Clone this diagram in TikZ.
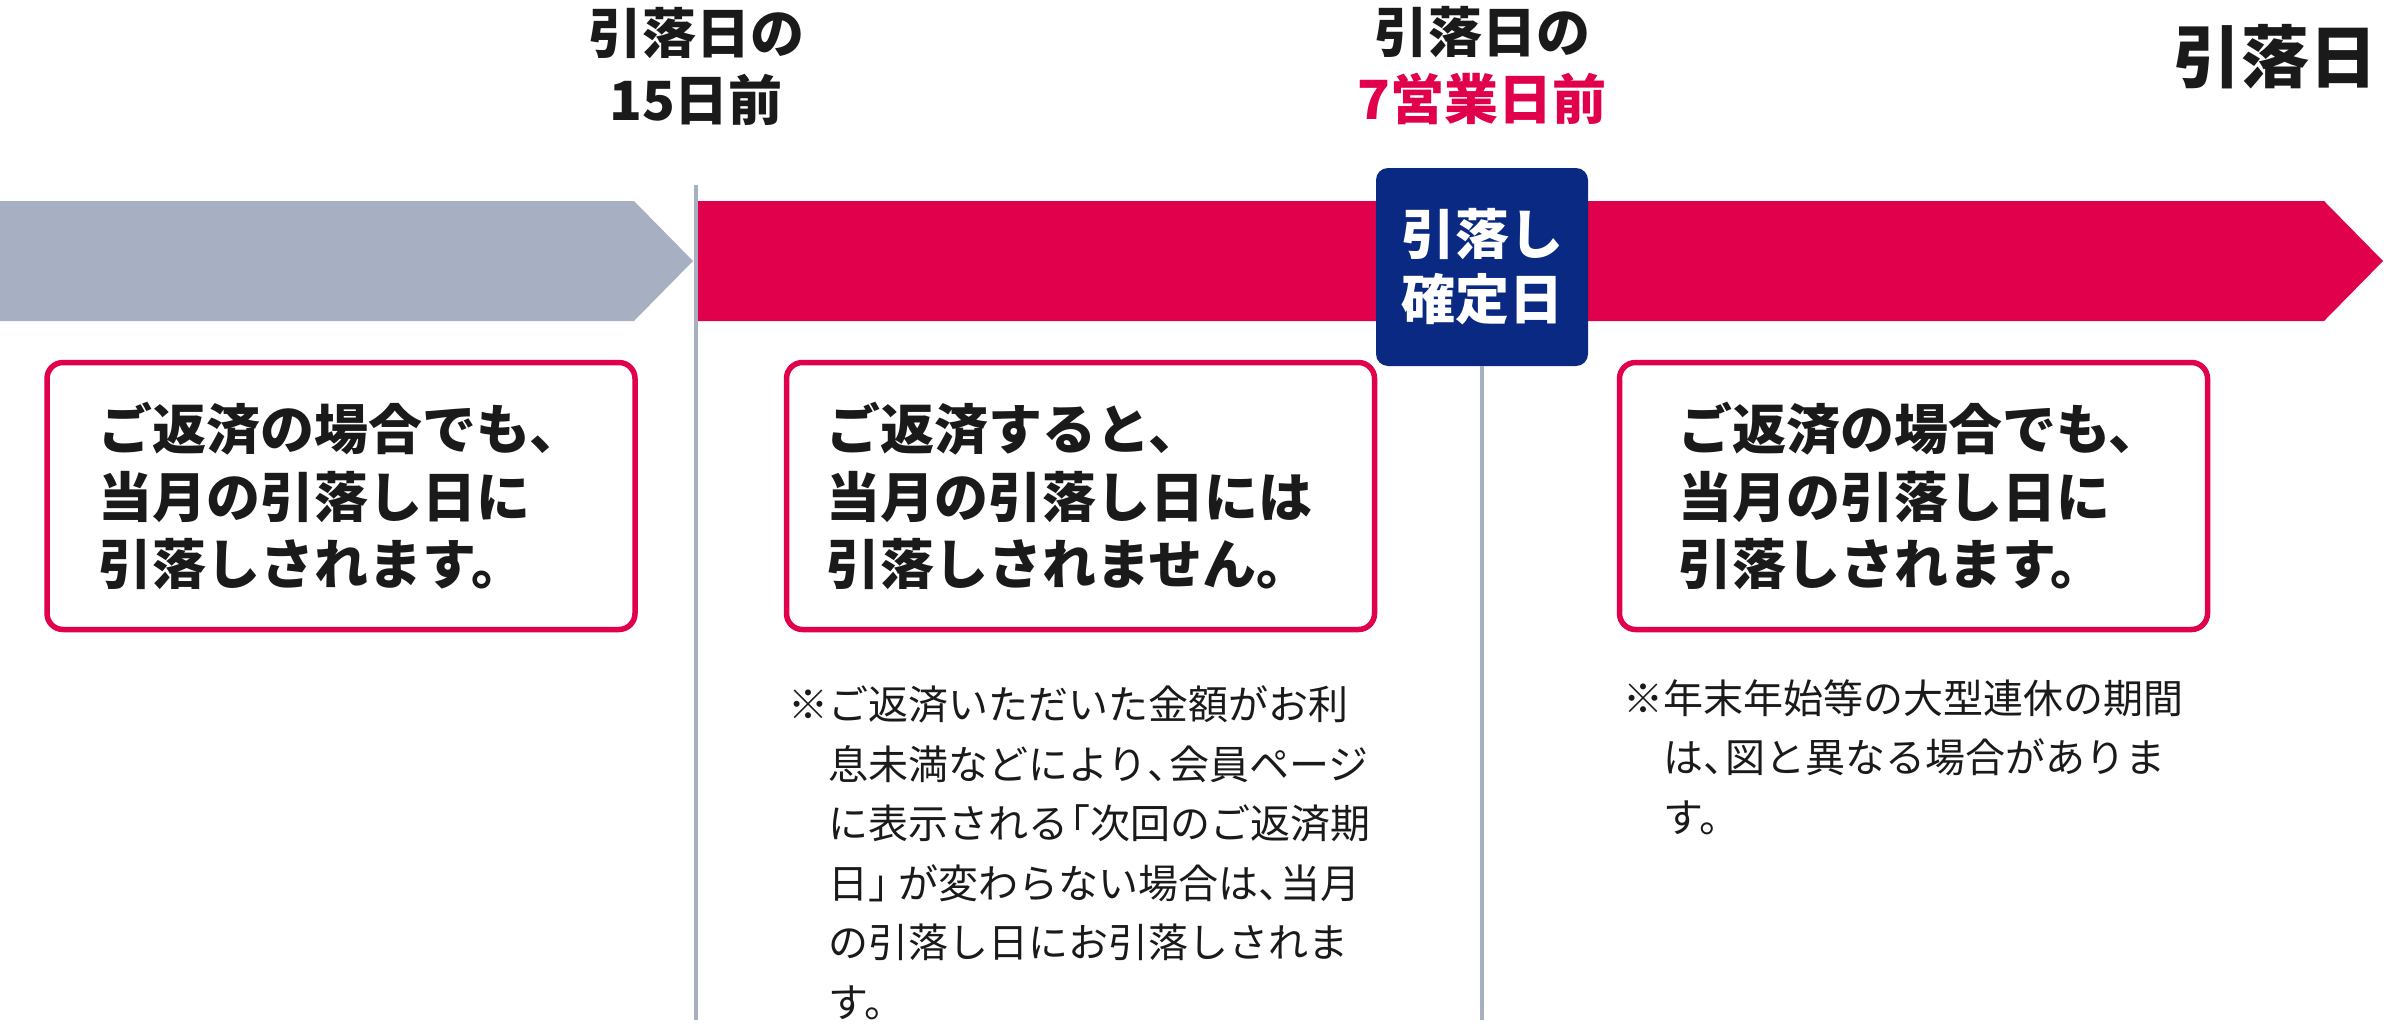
\documentclass[tikz,border=0pt]{standalone}
\usepackage{fontspec}
\newfontfamily\jp{Noto Sans CJK JP}
\definecolor{crimson}{HTML}{E1004B}
\definecolor{slate}{HTML}{A7B0C3}
\definecolor{navy}{HTML}{0A2982}
\definecolor{ink}{HTML}{1A1A1A}
\newcommand{\komemark}{\makebox[40pt][l]{※}}
\newcommand{\hangind}{\hspace*{40pt}}
\newcommand{\htouten}{\makebox[0.55em][l]{、}}
\newcommand{\hopenq}{\makebox[0.55em][r]{「}}
\newcommand{\hcloseq}{\makebox[0.75em][l]{」}}
\tikzset{
  mainbox/.style={draw=crimson, line width=5.5pt, rounded corners=16pt, fill=white,
    minimum width=588pt, minimum height=267pt, inner sep=0pt},
  boxtext/.style={align=left, inner sep=0pt, text=ink,
    font={\jp\bfseries\fontsize{54}{67.5}\selectfont}},
  toplabel/.style={align=center, inner sep=0pt, text=ink,
    font={\jp\bfseries\fontsize{54}{67}\selectfont}},
  notetext/.style={anchor=west, align=left, inner sep=0pt, text=ink,
    font={\jp\fontsize{40}{59.5}\selectfont}},
  marker/.style={draw=slate, line width=4pt},
  confirmbox/.style={fill=navy, rounded corners=12pt, minimum width=212pt, minimum height=198pt,
    inner sep=0pt, align=center, text=white, font={\jp\bfseries\fontsize{54}{65}\selectfont}}
}
\begin{document}
\begin{tikzpicture}[x=1pt,y=-1pt]
\useasboundingbox (0,0) rectangle (2384,1028);
% timeline bars
\fill[slate] (0,201) -- (634,201) -- (693,261) -- (634,321) -- (0,321) -- cycle;
\fill[crimson] (698,201) -- (2324,201) -- (2383,261) -- (2324,321) -- (698,321) -- cycle;
% markers
\coordinate (m1top) at (696,185);
\coordinate (m1bot) at (696,1020);
\coordinate (m2bot) at (1482,1020);
\draw[marker] (m1top) -- (m1bot);
\node[confirmbox] (confirm) at (1482,267) {引落し\\確定日};
\draw[marker] (confirm.south) -- (m2bot);
% top labels
\node[toplabel] (lab1) at (696,66) {引落日の\\15日前};
\node[toplabel] (lab2) at (1482,66) {引落日の\\\textcolor{crimson}{7営業日前}};
\node[toplabel, font={\jp\bfseries\fontsize{68}{80}\selectfont}] (lab3) at (2275,57) {引落日};
% boxes
\node[mainbox] (box1) at (341,496) {};
\node[mainbox] (box2) at (1080.5,496) {};
\node[mainbox] (box3) at (1913.5,496) {};
\node[boxtext] (t1) at (box1.center) {ご返済の場合でも、\\当月の引落し日に\\引落しされます。};
\node[boxtext] (t2) at ([xshift=-11pt]box2.center) {ご返済すると、\\当月の引落し日には\\引落しされません。};
\node[boxtext] (t3) at ([xshift=7pt]box3.center) {ご返済の場合でも、\\当月の引落し日に\\引落しされます。};
% notes
\node[notetext] (note1) at (788,853) {\komemark ご返済いただいた金額がお利\\\hangind 息未満などにより\htouten 会員ページ\\\hangind に表示される\hopenq 次回のご返済期\\\hangind 日\hcloseq が変わらない場合は\htouten 当月\\\hangind の引落し日にお引落しされま\\\hangind す。};
\node[notetext] (note2) at (1623,757) {\komemark 年末年始等の大型連休の期間\\\hangind は\htouten 図と異なる場合がありま\\\hangind す。};
\end{tikzpicture}
\end{document}
